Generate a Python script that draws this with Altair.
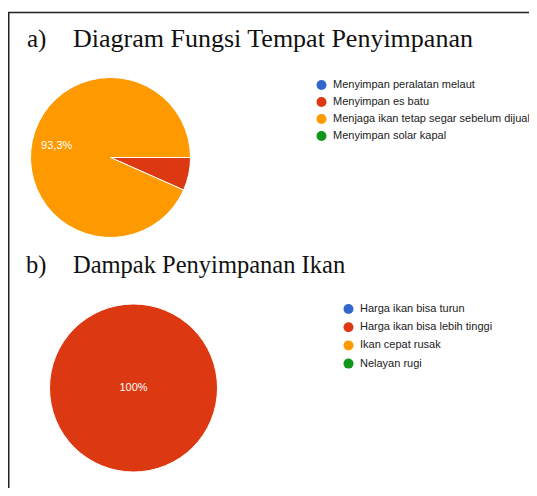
import math
import altair as alt
import pandas as pd

# ---- data ----
cat_a = ["Menyimpan peralatan melaut", "Menyimpan es batu",
         "Menjaga ikan tetap segar sebelum dijual", "Menyimpan solar kapal"]
val_a = [0, 1, 14, 0]
lbl_a = ["", "", "93,3%", ""]

cat_b = ["Harga ikan bisa turun", "Harga ikan bisa lebih tinggi",
         "Ikan cepat rusak", "Nelayan rugi"]
val_b = [0, 15, 0, 0]
lbl_b = ["", "100%", "", ""]

colors = ["#3366cc", "#dc3912", "#ff9900", "#109618"]

title_marks = ["a)", "b)"]
title_texts = ["Diagram Fungsi Tempat Penyimpanan", "Dampak Penyimpanan Ikan"]

W, H = 521, 480
SERIF = "Liberation Serif"
SANS = "Liberation Sans"

theta_range = [math.pi / 2, math.pi / 2 + 2 * math.pi]


def pie(cats, vals, lbls, cx, cy, r, lr, lx, ly, row_pad):
    df = pd.DataFrame({"cat": cats, "val": vals, "lbl": lbls, "ord": list(range(len(cats)))})
    base = alt.Chart(df).transform_filter("datum.val > 0").encode(
        theta=alt.Theta("val:Q", stack=True, scale=alt.Scale(range=theta_range)),
        order=alt.Order("ord:Q"),
    )
    arc = base.mark_arc(radius=r, x=cx, y=cy, stroke="white", strokeWidth=1).encode(
        color=alt.Color(
            "cat:N",
            scale=alt.Scale(domain=cats, range=colors),
            sort=cats,
            legend=alt.Legend(
                title=None, orient="none", legendX=lx, legendY=ly,
                symbolType="circle", symbolSize=100, symbolStrokeWidth=0,
                symbolOpacity=1, labelFont=SANS, labelFontSize=11,
                labelColor="#222222", labelLimit=400, labelOffset=6,
                rowPadding=row_pad, padding=0,
            ),
        )
    )
    txt = base.mark_text(radius=lr, x=cx, y=cy, color="white", font=SANS,
                         fontSize=11, align="center", baseline="middle").encode(
        text="lbl:N"
    )
    return alt.layer(arc, txt)


def text_at(s, x, y, size):
    return alt.Chart(pd.DataFrame({"t": [s]})).mark_text(
        align="left", baseline="alphabetic", font=SERIF, fontSize=size, color="#111111"
    ).encode(text="t:N", x=alt.value(x), y=alt.value(y))


pie_a = pie(cat_a, val_a, lbl_a, 102.5, 149.5, 80, 55, 308, 71.5, 5)
pie_b = pie(cat_b, val_b, lbl_b, 125.5, 380, 84, 0, 335, 295.5, 6.2)

frame = pd.DataFrame({"k": [0]})
top_rule = alt.Chart(frame).mark_rule(color="#222222", strokeWidth=1.5).encode(
    x=alt.value(0), x2=alt.value(W), y=alt.value(4.5)
)
left_rule = alt.Chart(frame).mark_rule(color="#222222", strokeWidth=1.5).encode(
    x=alt.value(0.75), y=alt.value(4.5), y2=alt.value(H)
)

texts = [
    text_at(title_marks[0], 19, 39, 25),
    text_at(title_texts[0], 65, 39, 26),
    text_at(title_marks[1], 18, 265, 24.5),
    text_at(title_texts[1], 65, 265, 24.5),
]

chart = alt.layer(top_rule, left_rule, *texts, pie_a, pie_b).resolve_scale(
    color="independent", theta="independent"
).properties(
    width=W, height=H, autosize=alt.AutoSizeParams(type="none"), padding=0
).configure_view(strokeWidth=0)

chart.save("out.html", embed_options={"renderer": "svg", "actions": False})
